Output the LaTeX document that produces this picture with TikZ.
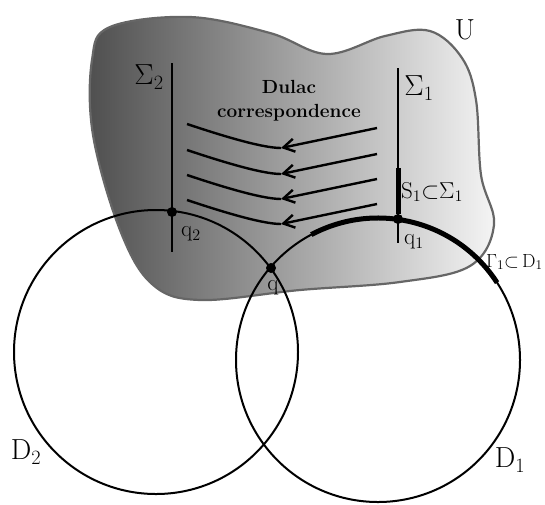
\RequirePackage{fix-cm}
\documentclass[tikz,border=0pt]{standalone}
\usetikzlibrary{arrows.meta, positioning}
\definecolor{udark}{gray}{0.31}
\definecolor{ulight}{gray}{0.96}
\definecolor{uedge}{gray}{0.40}

\tikzset{
  sect/.style={line width=2.4pt},
  sectthick/.style={line width=5pt},
  disc/.style={line width=2pt},
  gamma/.style={line width=5pt},
  flow/.style={line width=2.4pt},
  flowhead/.style={line width=2.4pt, -{Straight Barb[length=11pt,width=13pt]}},
  dot/.style={circle, fill, inner sep=0pt, minimum size=10pt},
  biglbl/.style={font=\fontsize{29}{33}\selectfont, inner sep=0pt},
  lbl/.style={font=\fontsize{23}{27}\selectfont, inner sep=0pt},
  smalllbl/.style={font=\fontsize{19}{23}\selectfont, inner sep=0pt},
}

\begin{document}
\begin{tikzpicture}[x=1pt,y=-1pt]
    \useasboundingbox (0,0) rectangle (545,504);
    \clip (0,0) rectangle (545,504);

    % the region U
    \path[left color=udark, right color=ulight, draw=uedge, line width=2.2pt]
        plot[smooth cycle, tension=0.6] coordinates {
        (110,27) (190,17) (270,33) (327,54) (385,36) (430,31) (462,58)
        (476,100) (481,175) (494,225) (470,266) (400,282) (300,290)
        (200,300) (152,284) (120,230) (93,135) (92,60)};
    \node[biglbl] (ulbl) at (465,30) {U};

    % the two discs
    \coordinate (d1c) at (378,360);
    \coordinate (d2c) at (156,352);
    \draw[disc] (d1c) circle[radius=142pt];
    \draw[disc] (d2c) circle[radius=142pt];
    \node[biglbl] (d1lbl) at (510,460) {D$_1$};
    \node[biglbl] (d2lbl) at (26,452) {D$_2$};

    % thick piece of D1
    \draw[gamma] ([shift={(118:142pt)}]d1c) arc[start angle=118, end angle=33, radius=142pt];
    \node[smalllbl, anchor=west] (gamlbl) at (486,262) {$\Gamma_1{\subset}\,$D$_1$};

    % transversal sections
    \node[dot] (q2) at (172,212) {};
    \node[dot] (q1) at (398,219) {};
    \node[dot] (q) at (271,268) {};
    \coordinate (s2top) at (172,63);
    \coordinate (s2bot) at (172,252);
    \coordinate (s1top) at (398,68);
    \coordinate (s1bot) at (398,243);
    \coordinate (s1mid) at (398,168);
    \draw[sect] (s2top) -- (s2bot);
    \draw[sect] (s1top) -- (s1bot);
    \draw[sectthick] (s1mid) -- (q1);

    \node[biglbl] (sig2) at (149,77) {$\Sigma_2$};
    \node[biglbl] (sig1) at (419,88) {$\Sigma_1$};
    \node[lbl, anchor=west] (s1lbl) at (401,192) {S$_1{\subset}\Sigma_1$};
    \node[lbl] (q2lbl) at (191,234) {q$_2$};
    \node[lbl] (q1lbl) at (414,242) {q$_1$};
    \node[lbl] (qlbl) at (273,288) {q};

    % Dulac correspondence
    \node[font=\fontsize{19}{24}\selectfont\bfseries, align=center] (dulac) at (289,101) {Dulac\\correspondence};
    \foreach \i/\dy in {1/0,2/26,3/51,4/76} {
        \coordinate (r\i) at (377,128+\dy);
        \coordinate (h\i) at (281,148+\dy);
        \coordinate (l\i) at (187,124+\dy);
        \draw[flowhead] (r\i) -- (h\i);
        \draw[flow] (h\i) .. controls +(-20,0) and +(30,10) .. (l\i);
    }
\end{tikzpicture}
\end{document}
